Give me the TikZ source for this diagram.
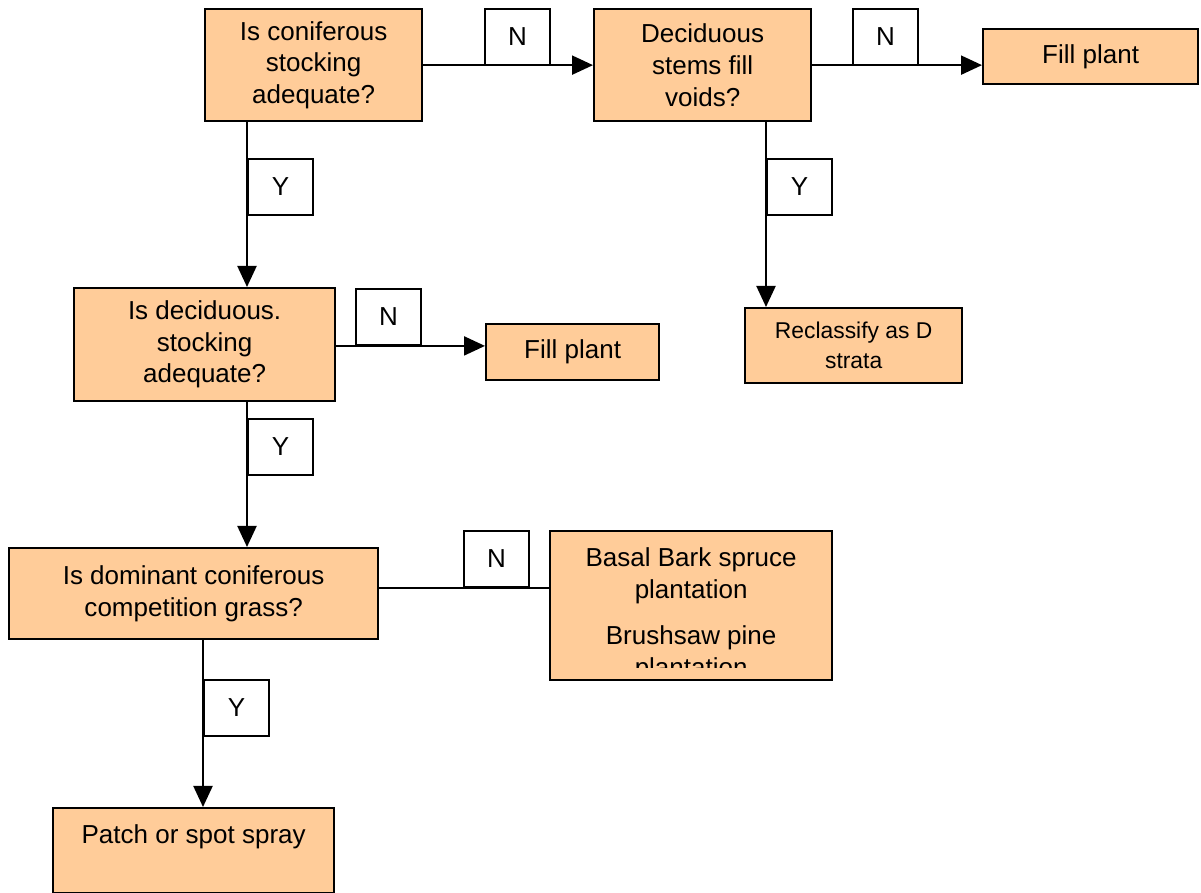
\documentclass[tikz,border=0pt]{standalone}
\usepackage{fontspec}
\setmainfont{Liberation Sans}
\usetikzlibrary{arrows.meta,positioning}
\definecolor{cbox}{HTML}{FFCC99}
\tikzset{
  box/.style={draw=black, line width=0.65pt, fill=cbox, inner sep=0pt, align=center, anchor=north west, font=\fontsize{7.4}{9.0}\selectfont},
  yn/.style={draw=black, line width=0.55pt, fill=white, minimum width=6.5mm, minimum height=5.6mm, inner sep=0pt, anchor=north west, font=\fontsize{7.4}{9.0}\selectfont},
  txt/.style={inner sep=0pt, align=center, font=\fontsize{7.4}{9.0}\selectfont},
  arr/.style={-{Triangle[length=2.1mm, width=1.9mm]}, line width=0.6pt},
  con/.style={line width=0.6pt},
}
\begin{document}
\begin{tikzpicture}[x=1cm,y=1cm]
\useasboundingbox (0,0) rectangle (12.01,-8.93);
% ================= top row =================
\node[box, minimum width=21.7mm, minimum height=11.2mm] (b1) at (2.04,-0.08) {Is coniferous\\ stocking\\ adequate?};
\node[box, minimum width=21.7mm, minimum height=11.2mm] (b2) at (5.93,-0.08) {Deciduous\\ stems fill\\ voids?};
\node[box, minimum width=21.5mm, minimum height=5.5mm] (b3) at (9.82,-0.28) {Fill plant};
\node[yn] (n1) at (4.84,-0.08) {N};
\node[yn] (n2) at (8.52,-0.08) {N};
\node[yn] (y1) at (2.47,-1.58) {Y};
\node[yn] (y2) at (7.66,-1.58) {Y};
% ================= second row =================
\node[box, minimum width=26.1mm, minimum height=11.3mm] (b4) at (0.73,-2.87) {Is deciduous.\\ stocking\\ adequate?};
\node[box, minimum width=17.3mm, minimum height=5.6mm] (b5) at (4.85,-3.23) {Fill plant};
\node[box, minimum width=21.7mm, minimum height=7.5mm, font=\fontsize{6.5}{8.5}\selectfont] (b6) at (7.44,-3.07) {Reclassify as D\\ strata};
\node[yn] (n3) at (3.55,-2.88) {N};
\node[yn] (y3) at (2.47,-4.18) {Y};
% ================= third row =================
\node[box, minimum width=36.9mm, minimum height=9.1mm] (b7) at (0.08,-5.47) {Is dominant coniferous\\ competition grass?};
\node[box, minimum width=28.2mm, minimum height=14.9mm] (b8) at (5.49,-5.30) {};
\begin{scope}
\clip (b8.north west) rectangle (8.31,-6.68);
\node[txt, below=1.7mm of b8.north] (b8t) {Basal Bark spruce\\ plantation\\[1.5mm] Brushsaw pine\\ plantation};
\end{scope}
\node[yn] (n4) at (4.63,-5.30) {N};
\node[yn] (y4) at (2.03,-6.79) {Y};
% ================= bottom =================
\node[box, minimum width=28.1mm, minimum height=8.5mm] (b9) at (0.52,-8.07) {};
\node[txt, below=1.7mm of b9.north] (b9t) {Patch or spot spray};
% ================= connectors =================
\draw[arr] (b1) -- (b2);
\draw[arr] (b2) -- (b2 -| b3.west);
\draw[arr] (b1.south -| y1.west) -- (b4.north -| y1.west);
\draw[arr] (b2.south -| y2.west) -- (b6.north -| y2.west);
\draw[arr] (b4.east |- n3.south) -- (b5.west |- n3.south);
\draw[arr] (b4.south -| y3.west) -- (b7.north -| y3.west);
\draw[con] (b7.east |- n4.south) -- (b8.west |- n4.south);
\draw[arr] (b7.south -| y4.west) -- (b9.north -| y4.west);
\end{tikzpicture}
\end{document}
